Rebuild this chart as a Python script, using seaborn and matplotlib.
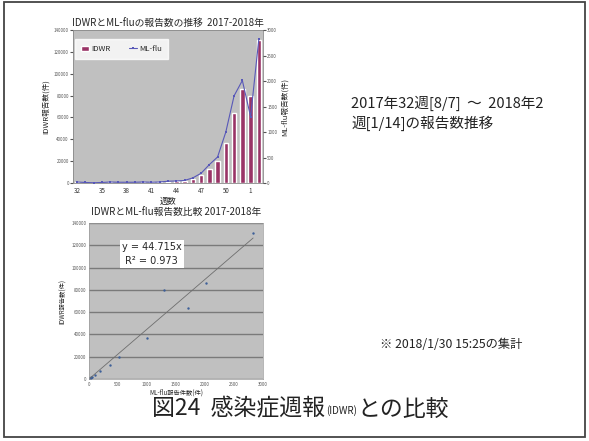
import numpy as np
import pandas as pd
import matplotlib
matplotlib.use("Agg")
import matplotlib.pyplot as plt
from matplotlib.patches import Rectangle
import seaborn as sns

sns.set_style("white")
plt.rcParams['font.family'] = ['Noto Sans CJK JP', 'DejaVu Sans']

# ---- data ----
weeks = ["32", "33", "34", "35", "36", "37", "38", "39", "40", "41", "42", "43",
         "44", "45", "46", "47", "48", "49", "50", "51", "52", "1", "2"]
idwr = [500, 300, 200, 300, 500, 400, 400, 400, 500, 500, 600, 900,
        1500, 2000, 3500, 7000, 13000, 20000, 36500, 64000, 86000, 80000, 131000]
mlflu = [20, 10, 5, 10, 20, 15, 15, 15, 20, 15, 20, 35,
         40, 50, 100, 190, 360, 510, 1000, 1710, 2010, 1300, 2830]
tick_weeks = ["32", "35", "38", "41", "44", "47", "50", "1"]
slope = 44.715
r2 = 0.973

df = pd.DataFrame({"week": weeks, "pos": np.arange(len(weeks)),
                   "IDWR": idwr, "ML-flu": mlflu})

W, H = 589, 441
fig = plt.figure(figsize=(W / 100, H / 100), dpi=100)
fig.patch.set_facecolor("white")

def ax_px(x0, y0, x1, y1):
    return fig.add_axes([x0 / W, 1 - y1 / H, (x1 - x0) / W, (y1 - y0) / H])

bg = "#c0c0c0"
bar_col = "#993366"
line_col = "#5858b8"

# ---- top chart ----
ax1 = ax_px(73, 30, 263, 183)
ax1.set_facecolor(bg)
sns.barplot(data=df, x="week", y="IDWR", order=weeks, color=bar_col,
            width=0.55, ax=ax1, saturation=1)
if ax1.get_legend():
    ax1.get_legend().remove()
ax1.set_ylim(0, 140000)
ax1.set_yticks(np.arange(0, 140001, 20000))
ax1.set_xlim(-0.5, len(weeks) - 0.5)
ax1.set_xticks([weeks.index(w) for w in tick_weeks])
ax1.set_xticklabels(tick_weeks)
ax1.tick_params(axis="x", labelsize=4.5, length=2, pad=1, colors="#333333")
ax1.tick_params(axis="y", labelsize=3.2, length=2, pad=1, colors="#555555")
ax1.set_xlabel("週数", fontsize=6, labelpad=1)
ax1.set_ylabel("IDWR報告数(件)", fontsize=5.5, labelpad=3)
for s in ax1.spines.values():
    s.set_color("#888888")
    s.set_linewidth(0.6)

ax2 = ax1.twinx()
sns.lineplot(data=df, x="pos", y="ML-flu", color=line_col, lw=0.8,
             marker="s", markersize=1.8, markeredgewidth=0, ax=ax2, label="ML-flu")
ax2.set_ylim(0, 3000)
ax2.set_yticks(np.arange(0, 3001, 500))
ax2.tick_params(axis="y", labelsize=3.2, length=2, pad=1, colors="#555555")
ax2.set_ylabel("ML-flu報告数(件)", fontsize=5.5, labelpad=3)
ax2.set_xlim(-0.5, len(weeks) - 0.5)
for s in ax2.spines.values():
    s.set_visible(False)
h2, l2 = ax2.get_legend_handles_labels()
if ax2.get_legend():
    ax2.get_legend().remove()
leg = ax2.legend([ax1.patches[0]] + h2, ["IDWR", "ML-flu"], ncol=2, loc="center",
                 bbox_to_anchor=(0.01, 0.81, 0.49, 0.13), fontsize=5.6,
                 frameon=True, fancybox=False, handlelength=1.0,
                 handletextpad=0.3, columnspacing=2.4, borderpad=0.75)
leg.get_frame().set_facecolor("white")
leg.get_frame().set_edgecolor("white")
ax1.set_title("IDWRとML-fluの報告数の推移  2017-2018年", fontsize=7, pad=3)

# ---- bottom chart ----
ax3 = ax_px(89, 223, 263, 379)
ax3.set_facecolor(bg)
ax3.set_xlim(0, 3000)
ax3.set_ylim(0, 140000)
ax3.set_xticks(np.arange(0, 3001, 500))
ax3.set_yticks(np.arange(0, 140001, 20000))
ax3.grid(axis="y", color="#7a7a7a", lw=1.0)
ax3.set_axisbelow(True)
xfit = np.array([0, max(mlflu)])
sns.lineplot(x=xfit, y=slope * xfit, color="#6e6e6e", lw=0.6, ax=ax3)
sns.scatterplot(x=mlflu, y=idwr, color="#3d5f99", s=3, linewidth=0, ax=ax3)
ax3.tick_params(labelsize=3.2, length=0, pad=2, colors="#555555")
ax3.set_xlabel("ML-flu報告件数(件)", fontsize=4.5, labelpad=1)
ax3.set_ylabel("IDWR報告数(件)", fontsize=4.5, labelpad=3)
for s in ax3.spines.values():
    s.set_color("#999999")
    s.set_linewidth(0.5)
ax3.set_title("IDWRとML-flu報告数比較 2017-2018年", fontsize=7, pad=6)
ax3.text(0.36, 0.80, f"y = {slope}x\nR² = {r2}", transform=ax3.transAxes,
         ha="center", va="center", fontsize=7, family=["DejaVu Sans"],
         linespacing=1.5,
         bbox=dict(facecolor="white", edgecolor="none", pad=1.5))

# ---- slide texts ----
fig.text(351 / W, 1 - 96 / H, "2017年32週[8/7]  ～  2018年2\n週[1/14]の報告数推移",
         fontsize=10.5, va="top", ha="left", linespacing=1.35, color="#222222")
fig.text(380 / W, 1 - 345 / H, "※ 2018/1/30 15:25の集計", fontsize=8.8,
         va="center", ha="left", color="#222222")

renderer = fig.canvas.get_renderer()
x_cur = 152
for txt, fs, dy, gap in [("図24  感染症週報", 16.5, 0, 1), ("(IDWR)", 7, 2, 1),
                         ("との比較", 16.5, 0, 0)]:
    t = fig.text(x_cur / W, 1 - (409 + dy) / H, txt, fontsize=fs,
                 va="center", ha="left", color="#222222")
    bb = t.get_window_extent(renderer=renderer)
    x_cur = bb.x1 + gap

fig.patches.append(Rectangle((4 / W, 1 - 437 / H), 581 / W, 435 / H,
                             transform=fig.transFigure, fill=False,
                             edgecolor="#444444", lw=1.3))

fig.savefig("out.png", dpi=100)
